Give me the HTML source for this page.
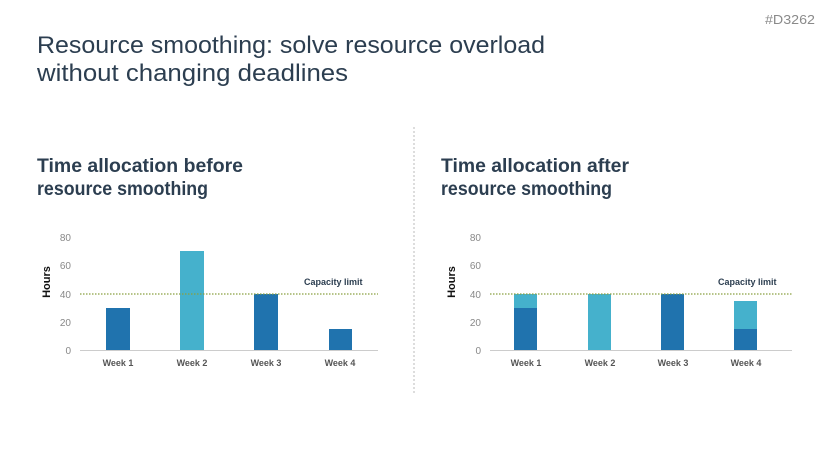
<!DOCTYPE html>
<html><head><meta charset="utf-8"><style>
html,body{margin:0;padding:0;background:#fff;}
svg{display:block;font-family:"Liberation Sans",sans-serif;}
</style></head><body>
<svg width="829" height="466" viewBox="0 0 829 466" xmlns="http://www.w3.org/2000/svg">
<text x="765" y="24" font-size="13" fill="#8a8a8a" textLength="50" lengthAdjust="spacingAndGlyphs">#D3262</text>
<text x="37" y="53" font-size="24" fill="#2c3e50" textLength="508" lengthAdjust="spacingAndGlyphs">Resource smoothing: solve resource overload</text>
<text x="37" y="81" font-size="24" fill="#2c3e50" textLength="311" lengthAdjust="spacingAndGlyphs">without changing deadlines</text>
<line x1="414" y1="127" x2="414" y2="395" stroke="#bbb" stroke-width="1" stroke-dasharray="2,2"/>
<g font-weight="bold" font-size="19" fill="#2c3e50">
<text x="37" y="172" textLength="206" lengthAdjust="spacingAndGlyphs">Time allocation before</text>
<text x="37" y="195" textLength="171" lengthAdjust="spacingAndGlyphs">resource smoothing</text>
<text x="441" y="172" textLength="188" lengthAdjust="spacingAndGlyphs">Time allocation after</text>
<text x="441" y="195" textLength="171" lengthAdjust="spacingAndGlyphs">resource smoothing</text>
</g>
<!-- left chart -->
<g font-size="10" fill="#888" text-anchor="end">
<text x="71" y="241">80</text><text x="71" y="269">60</text><text x="71" y="298">40</text><text x="71" y="326">20</text><text x="71" y="354">0</text>
<text x="481" y="241">80</text><text x="481" y="269">60</text><text x="481" y="298">40</text><text x="481" y="326">20</text><text x="481" y="354">0</text>
</g>
<text transform="translate(50,282) rotate(-90)" font-size="11" font-weight="bold" fill="#111" text-anchor="middle">Hours</text>
<text transform="translate(455,282) rotate(-90)" font-size="11" font-weight="bold" fill="#111" text-anchor="middle">Hours</text>
<rect x="106" y="308" width="24" height="42" fill="#2073ae"/>
<rect x="180" y="251" width="24" height="99" fill="#45b1cc"/>
<rect x="254" y="294" width="24" height="56" fill="#2073ae"/>
<rect x="329" y="329" width="23" height="21" fill="#2073ae"/>
<line x1="80" y1="350.5" x2="378" y2="350.5" stroke="#ccc" stroke-width="1"/>
<line x1="80" y1="294" x2="378" y2="294" stroke="#8aa040" stroke-width="1.2" stroke-dasharray="1.5,1.5"/>
<text x="304" y="285" font-size="9" font-weight="bold" fill="#2c3e50">Capacity limit</text>
<g font-size="9" font-weight="bold" fill="#555" text-anchor="middle">
<text x="118" y="366">Week 1</text><text x="192" y="366">Week 2</text><text x="266" y="366">Week 3</text><text x="340" y="366">Week 4</text>
<text x="526" y="366">Week 1</text><text x="600" y="366">Week 2</text><text x="673" y="366">Week 3</text><text x="746" y="366">Week 4</text>
</g>
<!-- right chart -->
<rect x="514" y="294" width="23" height="14" fill="#45b1cc"/>
<rect x="514" y="308" width="23" height="42" fill="#2073ae"/>
<rect x="588" y="294" width="23" height="56" fill="#45b1cc"/>
<rect x="661" y="294" width="23" height="56" fill="#2073ae"/>
<rect x="734" y="301" width="23" height="28" fill="#45b1cc"/>
<rect x="734" y="329" width="23" height="21" fill="#2073ae"/>
<line x1="490" y1="350.5" x2="792" y2="350.5" stroke="#ccc" stroke-width="1"/>
<line x1="490" y1="294" x2="792" y2="294" stroke="#8aa040" stroke-width="1.2" stroke-dasharray="1.5,1.5"/>
<text x="718" y="285" font-size="9" font-weight="bold" fill="#2c3e50">Capacity limit</text>
</svg>
</body></html>
